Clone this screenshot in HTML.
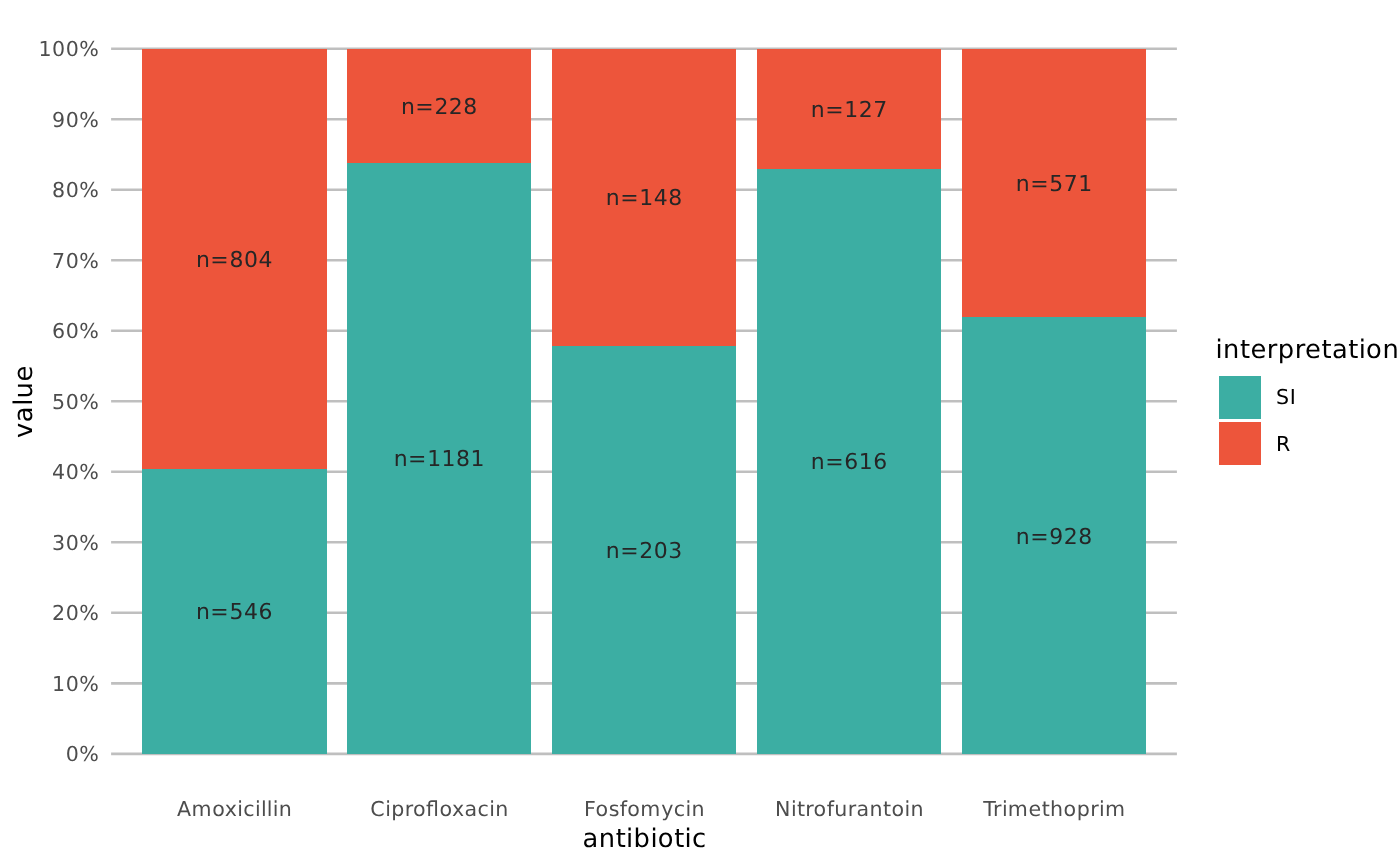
<!DOCTYPE html>
<html lang="en">
<head>
<meta charset="utf-8">
<title>Antibiotic interpretation chart</title>
<style>
html,body{margin:0;padding:0;background:#fff;}
body{width:1400px;height:866px;overflow:hidden;}
svg{display:block;}
svg text{font-family:"DejaVu Sans","Liberation Sans",sans-serif;text-rendering:geometricPrecision;}
.tick{font-size:20.586px;fill:#4D4D4D;}
.title{font-size:25.734px;fill:#000;}
.leg{font-size:20.586px;fill:#000;}
.lab{font-size:21.963px;fill:#262626;}
</style>
</head>
<body>
<svg width="1400" height="866" viewBox="0 0 1400 866">
<rect width="1400" height="866" fill="#ffffff"/>
<g stroke="#BFBFBF" stroke-width="2.59">
<line x1="111.10" x2="1176.90" y1="753.85" y2="753.85"/>
<line x1="111.10" x2="1176.90" y1="683.34" y2="683.34"/>
<line x1="111.10" x2="1176.90" y1="612.82" y2="612.82"/>
<line x1="111.10" x2="1176.90" y1="542.31" y2="542.31"/>
<line x1="111.10" x2="1176.90" y1="471.79" y2="471.79"/>
<line x1="111.10" x2="1176.90" y1="401.28" y2="401.28"/>
<line x1="111.10" x2="1176.90" y1="330.76" y2="330.76"/>
<line x1="111.10" x2="1176.90" y1="260.25" y2="260.25"/>
<line x1="111.10" x2="1176.90" y1="189.73" y2="189.73"/>
<line x1="111.10" x2="1176.90" y1="119.22" y2="119.22"/>
<line x1="111.10" x2="1176.90" y1="48.70" y2="48.70"/>
</g>
<g>
<rect x="142" y="49" width="185" height="420" fill="#ED553B"/>
<rect x="142" y="469" width="185" height="285" fill="#3CAEA3"/>
<rect x="347" y="49" width="184" height="114" fill="#ED553B"/>
<rect x="347" y="163" width="184" height="591" fill="#3CAEA3"/>
<rect x="552" y="49" width="184" height="297" fill="#ED553B"/>
<rect x="552" y="346" width="184" height="408" fill="#3CAEA3"/>
<rect x="757" y="49" width="184" height="120" fill="#ED553B"/>
<rect x="757" y="169" width="184" height="585" fill="#3CAEA3"/>
<rect x="962" y="49" width="184" height="268" fill="#ED553B"/>
<rect x="962" y="317" width="184" height="437" fill="#3CAEA3"/>
</g>
<text class="lab" transform="translate(234.38,267.00)" x="-38.45" y="0" dx="0 0.50 0.67 0.51 0.51">n=804</text>
<text class="lab" transform="translate(234.38,619.00)" x="-38.45" y="0" dx="0 0.50 0.67 0.51 0.51">n=546</text>
<text class="lab" transform="translate(439.34,114.00)" x="-38.45" y="0" dx="0 0.50 0.67 0.51 0.51">n=228</text>
<text class="lab" transform="translate(439.34,466.00)" x="-45.70" y="0" dx="0 0.50 0.67 0.51 0.51 0.51">n=1181</text>
<text class="lab" transform="translate(644.30,205.00)" x="-38.45" y="0" dx="0 0.50 0.67 0.51 0.51">n=148</text>
<text class="lab" transform="translate(644.30,558.00)" x="-38.45" y="0" dx="0 0.50 0.67 0.51 0.51">n=203</text>
<text class="lab" transform="translate(849.26,117.00)" x="-38.45" y="0" dx="0 0.50 0.67 0.51 0.51">n=127</text>
<text class="lab" transform="translate(849.26,469.00)" x="-38.45" y="0" dx="0 0.50 0.67 0.51 0.51">n=616</text>
<text class="lab" transform="translate(1054.22,191.00)" x="-38.45" y="0" dx="0 0.50 0.67 0.51 0.51">n=571</text>
<text class="lab" transform="translate(1054.22,544.00)" x="-38.45" y="0" dx="0 0.50 0.67 0.51 0.51">n=928</text>
<text class="tick" transform="translate(99.50,761.00)" x="-33.84" y="0" dx="0 0.47">0%</text>
<text class="tick" transform="translate(99.50,691.00)" x="-47.41" y="0" dx="0 0.47 0.47">10%</text>
<text class="tick" transform="translate(99.50,620.00)" x="-47.41" y="0" dx="0 0.47 0.47">20%</text>
<text class="tick" transform="translate(99.50,550.00)" x="-47.41" y="0" dx="0 0.47 0.47">30%</text>
<text class="tick" transform="translate(99.50,479.00)" x="-47.41" y="0" dx="0 0.47 0.47">40%</text>
<text class="tick" transform="translate(99.50,409.00)" x="-47.41" y="0" dx="0 0.47 0.47">50%</text>
<text class="tick" transform="translate(99.50,338.00)" x="-47.41" y="0" dx="0 0.47 0.47">60%</text>
<text class="tick" transform="translate(99.50,268.00)" x="-47.41" y="0" dx="0 0.47 0.47">70%</text>
<text class="tick" transform="translate(99.50,197.00)" x="-47.41" y="0" dx="0 0.47 0.47">80%</text>
<text class="tick" transform="translate(99.50,127.00)" x="-47.41" y="0" dx="0 0.47 0.47">90%</text>
<text class="tick" transform="translate(99.50,56.00)" x="-60.98" y="0" dx="0 0.47 0.47 0.48">100%</text>
<text class="tick" transform="translate(234.58,816.00)" x="-57.63" y="0" dx="0 0.51 0.73 0.43 0.44 0.21 0.41 0.21 0.21 0.21 0.21">Amoxicillin</text>
<text class="tick" transform="translate(439.54,816.00)" x="-69.20" y="0" dx="0 0.52 0.21 0.47 0.29 0.46 0 0.47 0.43 0.44 0.46 0.41 0.21">Ciprofloxacin</text>
<text class="tick" transform="translate(644.50,816.00)" x="-60.40" y="0" dx="0 0.40 0.46 0.39 0.26 0.46 0.73 0.44 0.41 0.21">Fosfomycin</text>
<text class="tick" transform="translate(849.46,816.00)" x="-74.42" y="0" dx="0 0.56 0.21 0.29 0.29 0.46 0.26 0.47 0.31 0.46 0.47 0.29 0.46 0.21">Nitrofurantoin</text>
<text class="tick" transform="translate(1054.42,816.00)" x="-71.22" y="0" dx="0 0.35 0.31 0.21 0.73 0.46 0.29 0.47 0.46 0.47 0.31 0.21">Trimethoprim</text>
<text class="title" transform="translate(644.50,847.00)" x="-62.12" y="0" dx="0 0.57 0.59 0.37 0.26 0.59 0.26 0.57 0.37 0.26">antibiotic</text>
<text class="title" transform="translate(32.00,401.50) rotate(-90)" x="-36.41" y="0" dx="0 0.55 0.57 0.26 0.59">value</text>
<text class="title" transform="translate(1215.60,358.00)" x="0.00" y="0" dx="0 0.26 0.59 0.37 0.57 0.38 0.59 0.36 0.57 0.37 0.57 0.37 0.26 0.57">interpretation</text>
<text class="leg" transform="translate(1276.10,404.00)" x="0.00" y="0" dx="0 0.47">SI</text>
<text class="leg" transform="translate(1276.10,451.00)" x="0.00" y="0" dx="0">R</text>
<rect x="1219" y="376" width="42" height="43" fill="#3CAEA3"/>
<rect x="1219" y="422" width="42" height="43" fill="#ED553B"/>
</svg>
</body>
</html>
